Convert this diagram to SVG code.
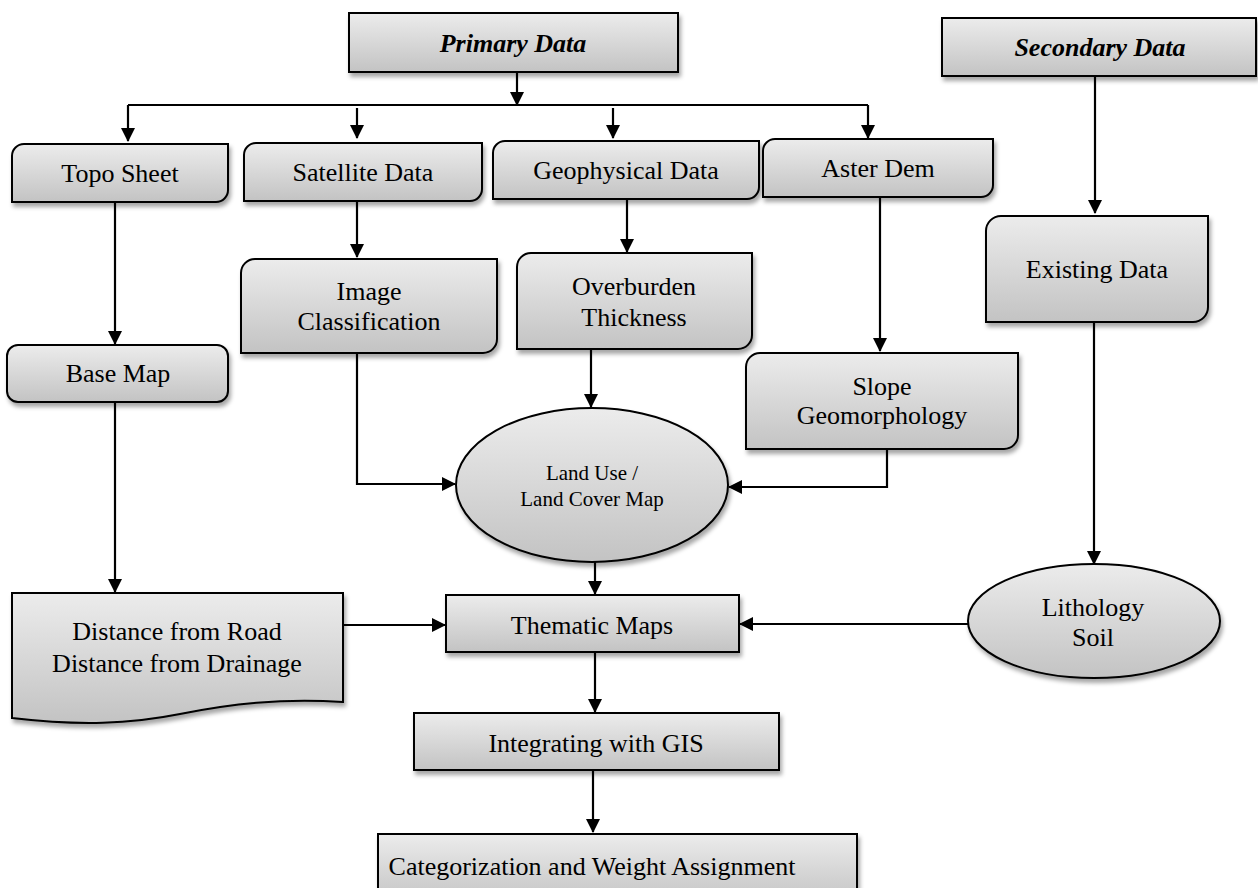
<svg xmlns="http://www.w3.org/2000/svg" width="1258" height="888" viewBox="0 0 1258 888">
<defs>
  <linearGradient id="g" x1="0" y1="0" x2="0" y2="1">
    <stop offset="0" stop-color="#ececec"/>
    <stop offset="1" stop-color="#c3c3c3"/>
  </linearGradient>
  <filter id="sh" x="-10%" y="-10%" width="120%" height="130%">
    <feDropShadow dx="2" dy="4" stdDeviation="2" flood-color="#000" flood-opacity="0.35"/>
  </filter>
  <marker id="ah" markerUnits="userSpaceOnUse" markerWidth="14" markerHeight="14" refX="13" refY="7" orient="auto">
    <path d="M0,0 L14,7 L0,14 Z" fill="#000"/>
  </marker>
  <style>
    .n{fill:url(#g);stroke:#000;stroke-width:2;filter:url(#sh)}
    .t{font-family:"Liberation Serif","Times New Roman",serif;font-size:26px;fill:#000;text-anchor:middle}
    .s{font-size:21px}
    .bi{font-weight:bold;font-style:italic}
    .c{fill:none;stroke:#000;stroke-width:2.2}
    .a{marker-end:url(#ah)}
  </style>
</defs>
<rect width="1258" height="888" fill="#fff"/>

<g id="connectors">
  <path class="c a" d="M517,72 V105"/>
  <path class="c" d="M128,105 H868"/>
  <path class="c a" d="M128,105 V141"/>
  <path class="c a" d="M357,108 V138"/>
  <path class="c a" d="M613,108 V138"/>
  <path class="c a" d="M868,105 V138"/>
  <path class="c a" d="M115,202 V344"/>
  <path class="c a" d="M357,201 V257"/>
  <path class="c a" d="M627,199 V252"/>
  <path class="c a" d="M880,197 V351"/>
  <path class="c a" d="M1095,76 V213"/>
  <path class="c a" d="M1094,322 V564"/>
  <path class="c a" d="M115,402 V592"/>
  <path class="c a" d="M357,353 V484 H455"/>
  <path class="c a" d="M591,349 V407"/>
  <path class="c a" d="M887,449 V487 H729"/>
  <path class="c a" d="M595,561 V594"/>
  <path class="c a" d="M343,625 H445"/>
  <path class="c a" d="M968,624 H740"/>
  <path class="c a" d="M595,652 V712"/>
  <path class="c a" d="M593,770 V832"/>
</g>

<g id="primary">
  <rect class="n" x="349" y="13" width="329" height="59"/>
  <text class="t bi" x="513" y="52">Primary Data</text>
</g>
<g id="secondary">
  <rect class="n" x="942" y="18" width="314" height="58"/>
  <text class="t bi" x="1100" y="56">Secondary Data</text>
</g>
<g id="topo">
  <path class="n" d="M12,156 A12,12 0 0 1 24,144 H228 V190 A12,12 0 0 1 216,202 H12 Z"/>
  <text class="t" x="120" y="182">Topo Sheet</text>
</g>
<g id="satellite">
  <path class="n" d="M244,155 A12,12 0 0 1 256,143 H482 V189 A12,12 0 0 1 470,201 H244 Z"/>
  <text class="t" x="363" y="181">Satellite Data</text>
</g>
<g id="geophysical">
  <path class="n" d="M493,153 A12,12 0 0 1 505,141 H759 V187 A12,12 0 0 1 747,199 H493 Z"/>
  <text class="t" x="626" y="179">Geophysical Data</text>
</g>
<g id="aster">
  <path class="n" d="M763,151 A12,12 0 0 1 775,139 H993 V185 A12,12 0 0 1 981,197 H763 Z"/>
  <text class="t" x="878" y="177">Aster Dem</text>
</g>
<g id="basemap">
  <rect class="n" x="7" y="345" width="221" height="57" rx="11"/>
  <text class="t" x="118" y="382">Base Map</text>
</g>
<g id="image">
  <path class="n" d="M241,273 A14,14 0 0 1 255,259 H497 V339 A14,14 0 0 1 483,353 H241 Z"/>
  <text class="t" x="369" y="300">Image</text>
  <text class="t" x="369" y="330">Classification</text>
</g>
<g id="overburden">
  <path class="n" d="M517,267 A14,14 0 0 1 531,253 H752 V335 A14,14 0 0 1 738,349 H517 Z"/>
  <text class="t" x="634" y="295">Overburden</text>
  <text class="t" x="634" y="326">Thickness</text>
</g>
<g id="existing">
  <path class="n" d="M986,231 A15,15 0 0 1 1001,216 H1208 V307 A15,15 0 0 1 1193,322 H986 Z"/>
  <text class="t" x="1097" y="278">Existing Data</text>
</g>
<g id="slope">
  <path class="n" d="M746,367 A14,14 0 0 1 760,353 H1018 V435 A14,14 0 0 1 1004,449 H746 Z"/>
  <text class="t" x="882" y="395">Slope</text>
  <text class="t" x="882" y="424">Geomorphology</text>
</g>
<g id="landuse">
  <ellipse class="n" cx="592" cy="485" rx="136" ry="77"/>
  <text class="t s" x="592" y="480">Land Use /</text>
  <text class="t s" x="592" y="506">Land Cover Map</text>
</g>
<g id="distance">
  <path class="n" d="M12,593 H343 V702 C280,698 230,704 180,714 C130,724 80,726 12,718 Z"/>
  <text class="t" x="177" y="640">Distance from Road</text>
  <text class="t" x="177" y="672">Distance from Drainage</text>
</g>
<g id="lithology">
  <ellipse class="n" cx="1094" cy="621" rx="126" ry="57"/>
  <text class="t" x="1093" y="616">Lithology</text>
  <text class="t" x="1093" y="646">Soil</text>
</g>
<g id="thematic">
  <rect class="n" x="446" y="595" width="293" height="57"/>
  <text class="t" x="592" y="634">Thematic Maps</text>
</g>
<g id="integrating">
  <rect class="n" x="414" y="713" width="365" height="57"/>
  <text class="t" x="596" y="752">Integrating with GIS</text>
</g>
<g id="categorization">
  <rect class="n" x="378" y="834" width="479" height="70"/>
  <text class="t" x="592" y="875">Categorization and Weight Assignment</text>
</g>
</svg>
